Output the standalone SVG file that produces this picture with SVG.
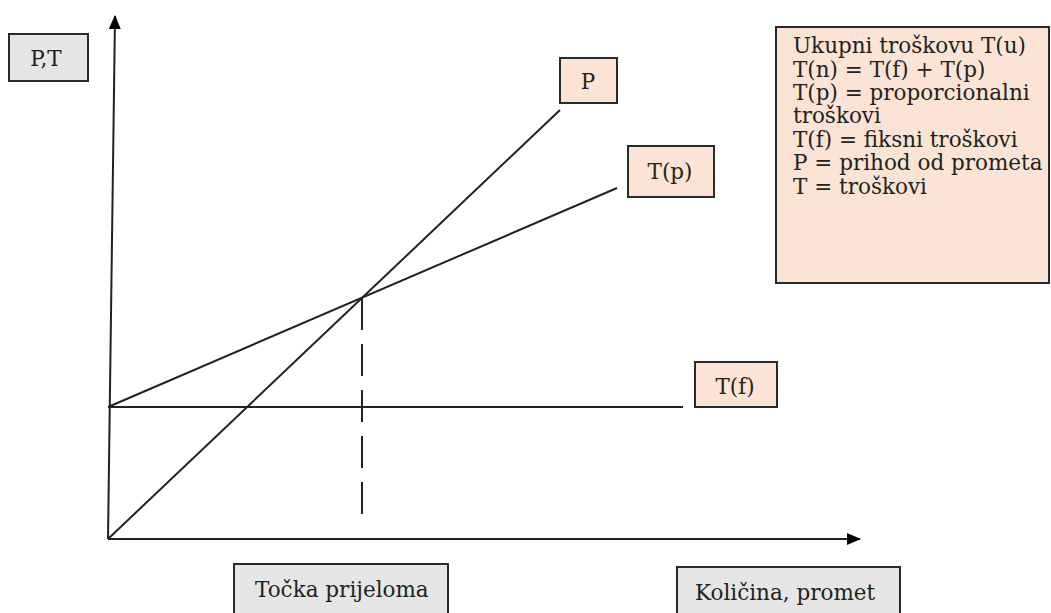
<svg xmlns="http://www.w3.org/2000/svg" width="1051" height="613" viewBox="0 0 1051 613">
  <style>
    .lbl { font-family: "DejaVu Serif", "Liberation Serif", serif; font-size: 21.5px; fill: #222; }
    .leg { font-family: "DejaVu Serif", "Liberation Serif", serif; font-size: 21.5px; fill: #222; }
    .grey { fill: #e6e6e6; stroke: #2a2a2a; stroke-width: 2; }
    .peach { fill: #fbe4d5; stroke: #2a2a2a; stroke-width: 2; }
    .ln { stroke: #222; stroke-width: 2; fill: none; }
  </style>
  <defs>
    <marker id="arr" markerWidth="14" markerHeight="12" refX="13" refY="6" orient="auto" markerUnits="userSpaceOnUse">
      <path d="M0,0 L14,6 L0,12 Z" fill="#000"/>
    </marker>
  </defs>
  <rect width="1051" height="613" fill="#fff"/>
  <g id="connectors">
    <line class="ln" x1="108" y1="539" x2="115" y2="16" marker-end="url(#arr)"/>
    <line class="ln" x1="108" y1="539" x2="860" y2="539" marker-end="url(#arr)"/>
    <line class="ln" x1="108" y1="407" x2="683" y2="407"/>
    <line class="ln" x1="108" y1="539" x2="560" y2="110"/>
    <line class="ln" x1="108" y1="407" x2="617" y2="188"/>
    <line class="ln" x1="362" y1="298" x2="362" y2="527" stroke-dasharray="32 14"/>
  </g>
  <g id="node-pt">
    <rect class="grey" x="9" y="34" width="79" height="47"/>
    <text class="lbl" x="46" y="66" text-anchor="middle">P,T</text>
  </g>
  <g id="node-p">
    <rect class="peach" x="560" y="58" width="57" height="45"/>
    <text class="lbl" x="588" y="89" text-anchor="middle">P</text>
  </g>
  <g id="node-tp">
    <rect class="peach" x="628" y="146" width="86" height="51"/>
    <text class="lbl" x="670" y="179" text-anchor="middle">T(p)</text>
  </g>
  <g id="node-tf">
    <rect class="peach" x="695" y="362" width="82" height="45"/>
    <text class="lbl" x="735" y="394" text-anchor="middle">T(f)</text>
  </g>
  <g id="node-legend">
    <rect class="peach" x="776" y="27" width="273" height="256"/>
    <text class="leg" x="793" y="53">Ukupni troškovu T(u)</text>
    <text class="leg" x="793" y="77">T(n) = T(f) + T(p)</text>
    <text class="leg" x="793" y="100">T(p) = proporcionalni</text>
    <text class="leg" x="793" y="123">troškovi</text>
    <text class="leg" x="793" y="147">T(f) = fiksni troškovi</text>
    <text class="leg" x="793" y="170">P = prihod od prometa</text>
    <text class="leg" x="793" y="194">T = troškovi</text>
  </g>
  <g id="node-tocka">
    <rect class="grey" x="234" y="564" width="214" height="60"/>
    <text class="lbl" x="255" y="597">Točka prijeloma</text>
  </g>
  <g id="node-kolicina">
    <rect class="grey" x="677" y="567" width="223" height="60"/>
    <text class="lbl" x="695" y="600">Količina, promet</text>
  </g>
</svg>
